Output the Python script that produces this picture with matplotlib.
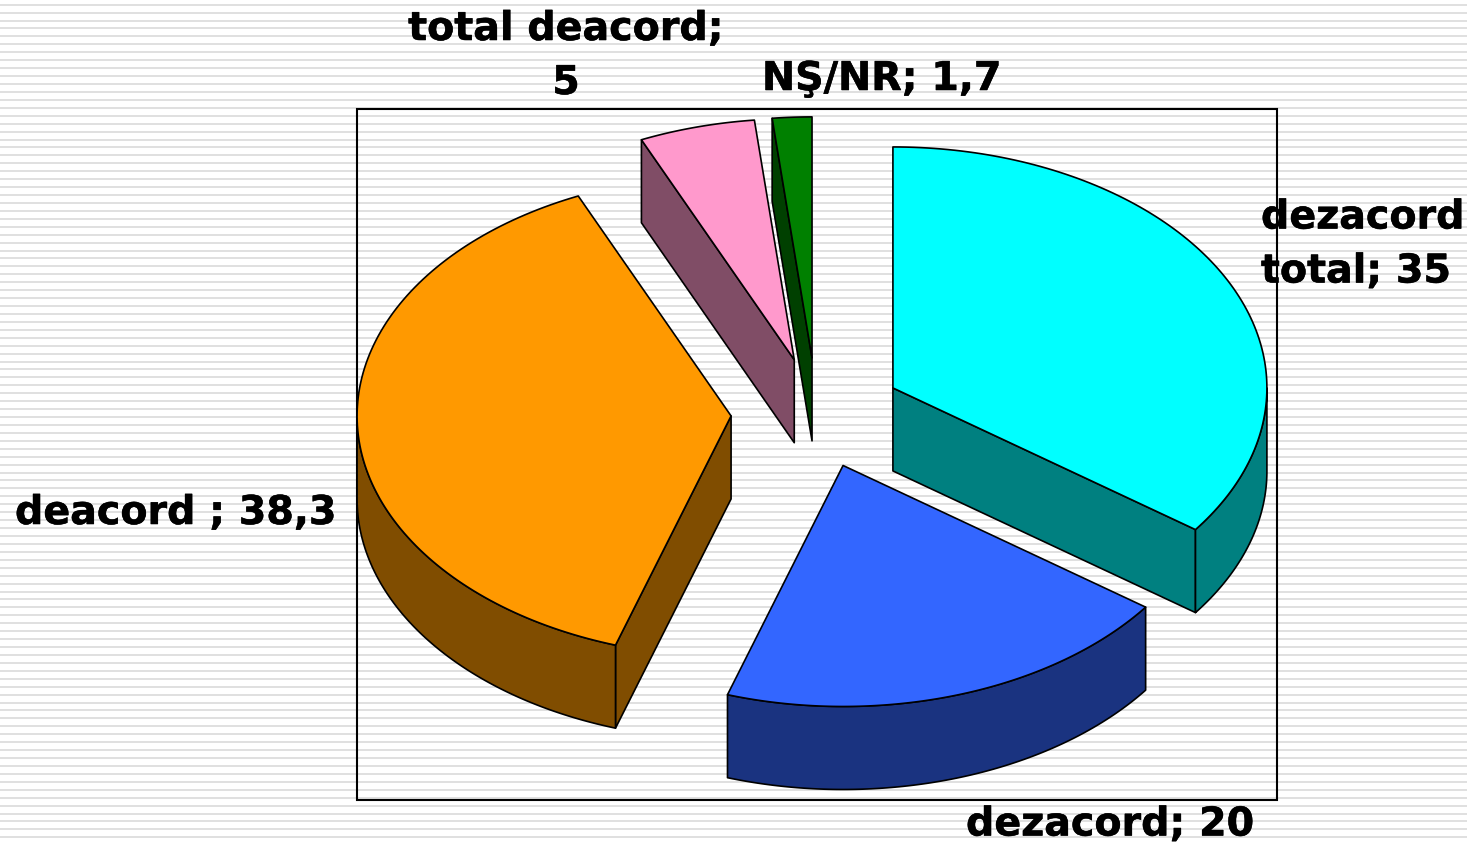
# exploded 3D-look pie, drawn in pixel coordinates
import numpy as np
import matplotlib
import matplotlib.pyplot as plt
import matplotlib.patheffects as pe
from matplotlib.colors import to_rgb
from matplotlib.patches import Polygon, Rectangle

matplotlib.use("Agg")

values = [35, 20, 38.3, 5, 1.7]
top_colors = ["#00FFFF", "#3366FF", "#FF9900", "#FF99CC", "#008000"]
labels = ["dezacord\ntotal; 35", "dezacord; 20", "deacord ; 38,3", "total deacord;\n5", "NŞ/NR; 1,7"]

# pie geometry
CX, CY = 816.6, 413
RX, RY = 374, 241
DEPTH = 83
EXPLODE = 0.229

fig = plt.figure(figsize=(14.67, 8.44), dpi=100)
ax = fig.add_axes([0, 0, 1, 1])
ax.set_xlim(0, 1467)
ax.set_ylim(844, 0)
ax.axis("off")

# striped slide background
for y in np.arange(4.7, 844, 7.93):
    ax.axhspan(y - 1.0, y + 1.0, color="#E0E0E0", lw=0, zorder=0)

ax.add_patch(Rectangle((357, 109), 920, 691, fill=False, ec="black", lw=1.5, zorder=1))


def rim(cx, cy, t0, t1, drop=0):
    t = np.radians(np.linspace(t0, t1, 120))
    return np.column_stack([cx + RX * np.sin(t), cy - RY * np.cos(t) + drop])


def shade(color):
    return tuple(c * 0.5 for c in to_rgb(color))


edges = np.cumsum([0] + values) * 3.6
for i in [3, 4, 0, 2, 1]:
    t0, t1 = edges[i], edges[i + 1]
    mid = np.radians((t0 + t1) / 2)
    cx = CX + EXPLODE * RX * np.sin(mid)
    cy = CY - EXPLODE * RY * np.cos(mid)
    apex = np.array([[cx, cy]])
    dark = shade(top_colors[i])
    style = dict(ec="black", lw=1.2, joinstyle="round", zorder=2)

    # flat cut faces, only those turned to the viewer
    faces = []
    if 180 < t0 < 360:
        faces.append(t0)
    if 0 < t1 < 180:
        faces.append(t1)
    for t in faces:
        a = rim(cx, cy, t, t)[:1]
        face = np.vstack([apex, a, a + [0, DEPTH], apex + [0, DEPTH]])
        ax.add_patch(Polygon(face, fc=dark, **style))

    # outer wall, only the part facing the viewer
    w0, w1 = max(t0, 90), min(t1, 270)
    if w1 > w0:
        wall = np.vstack([rim(cx, cy, w0, w1), rim(cx, cy, w1, w0, DEPTH)])
        ax.add_patch(Polygon(wall, fc=dark, **style))

    # top of the slice
    ax.add_patch(Polygon(np.vstack([apex, rim(cx, cy, t0, t1)]), fc=top_colors[i], **style))

font = dict(fontsize=28.5, fontweight="bold", family="DejaVu Sans", color="black", zorder=3, va="baseline",
            path_effects=[pe.withStroke(linewidth=0.4, foreground="black")])
first_baseline = [(1261, 228.5, "left"), (966, 835.5, "left"), (15, 524, "left"), (566, 40, "center"), (762, 90, "left")]
for label, (x, y, align) in zip(labels, first_baseline):
    for n, line in enumerate(label.split("\n")):
        ax.text(x, y + n * 54, line, ha=align, **font)

fig.savefig("out.png", dpi=100)
